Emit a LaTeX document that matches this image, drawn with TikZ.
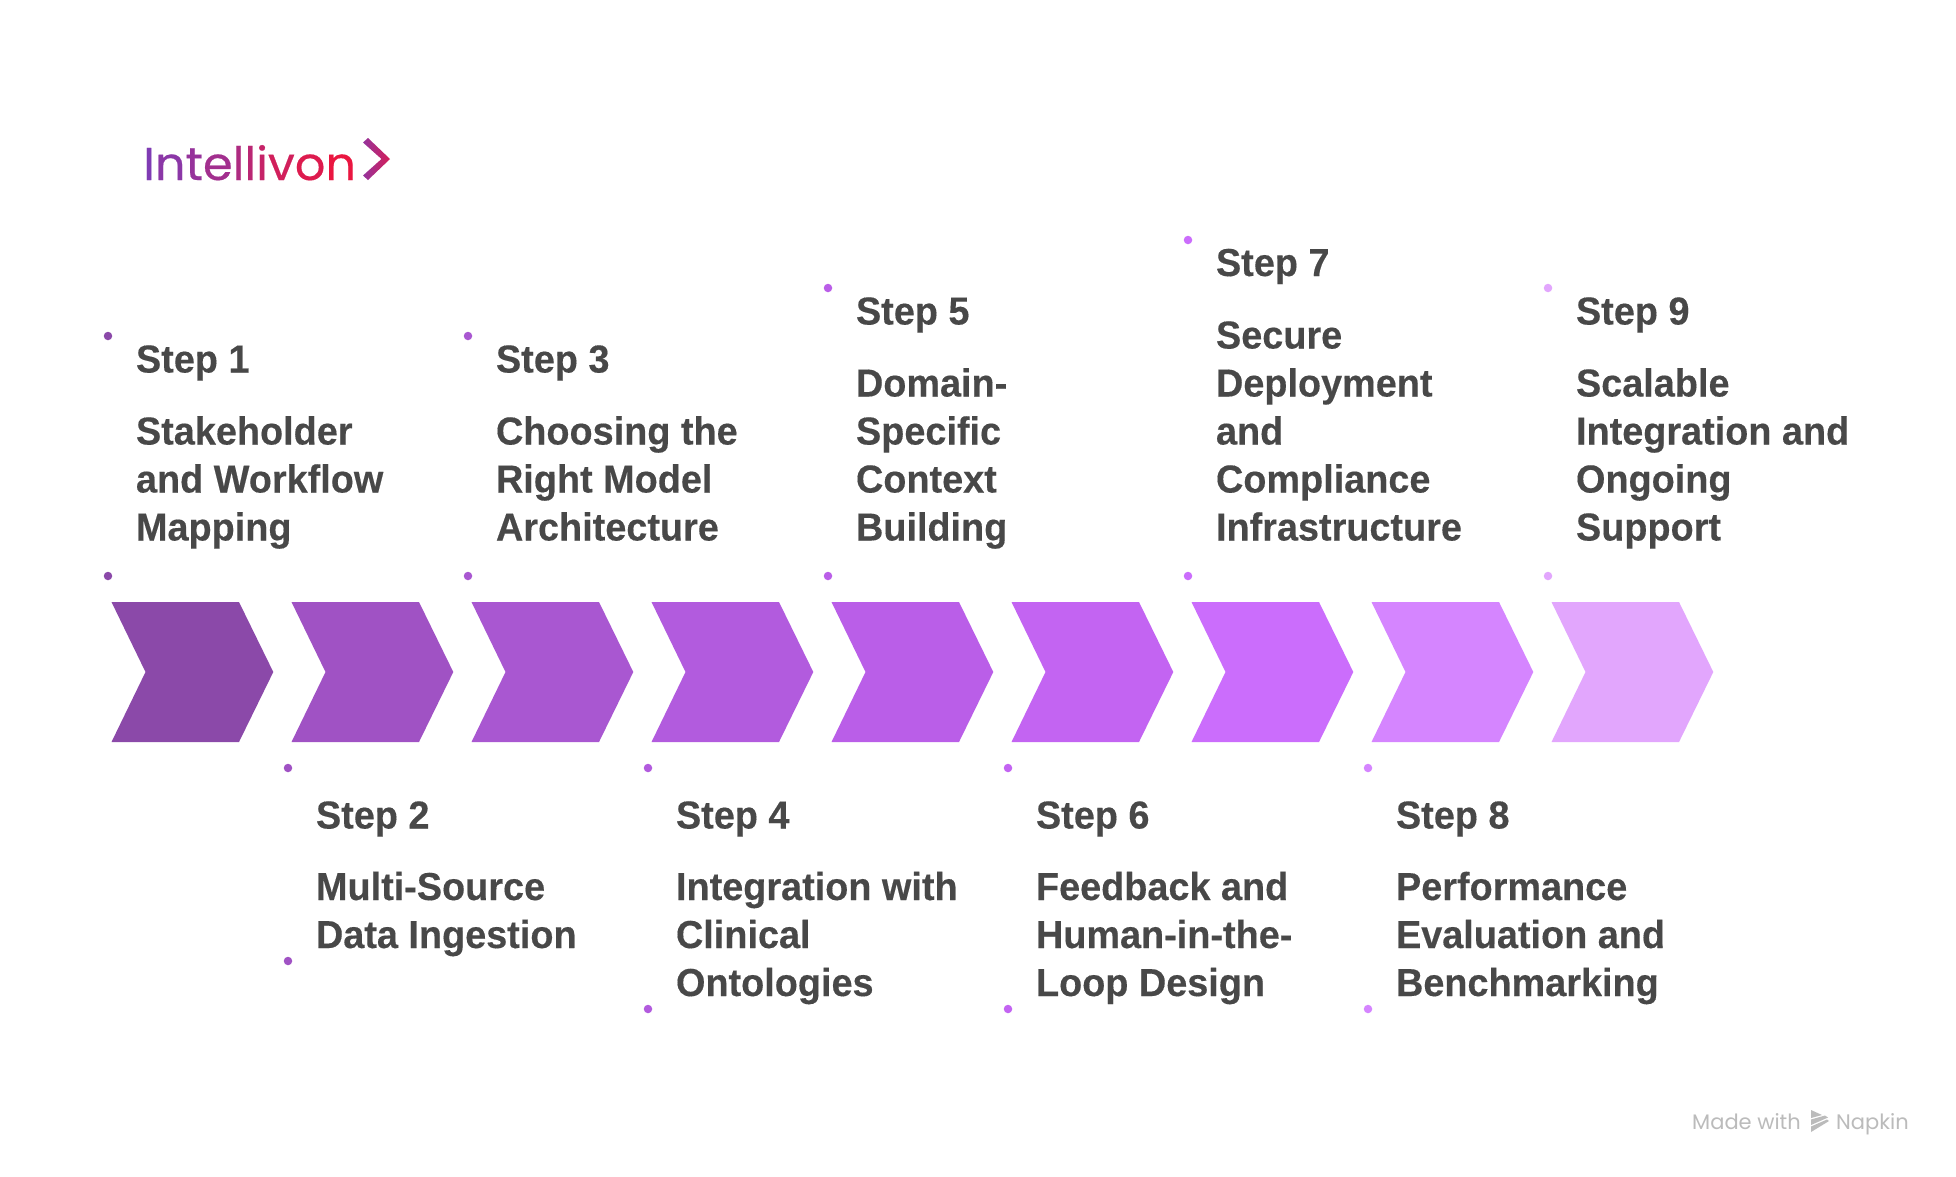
\documentclass[tikz,border=0pt]{standalone}
\usepackage{fontspec}
\setmainfont{Liberation Sans}
\newfontfamily\stepfont[FakeStretch=0.97,FakeBold=0.3]{Liberation Sans}
\newfontfamily\logofont[FakeStretch=1.04,FakeBold=0.4]{Poppins}
\newfontfamily\markfont{Poppins}
\definecolor{txt}{HTML}{484848}
\definecolor{cA}{HTML}{8B49A9}
\definecolor{cB}{HTML}{A052C4}
\definecolor{cC}{HTML}{A957D1}
\definecolor{cD}{HTML}{B25BDE}
\definecolor{cE}{HTML}{BA5EE8}
\definecolor{cF}{HTML}{C364F2}
\definecolor{cG}{HTML}{CB6DFC}
\definecolor{cH}{HTML}{D585FF}
\definecolor{cI}{HTML}{E2A6FD}
\definecolor{logoL}{HTML}{7F3BB4}
\definecolor{logoR}{HTML}{EA1640}
\definecolor{wm}{HTML}{BBBBBB}
\tikzset{
  steptext/.style={anchor=base west,inner sep=0pt,outer sep=0pt,text=txt,font=\stepfont\fontsize{39}{48}\selectfont\bfseries},
  bodytext/.style={steptext,align=left},
  markdot/.style={circle,inner sep=0pt,minimum size=8.5pt},
  marktext/.style={anchor=base west,inner sep=0pt,text=wm,font=\markfont\fontsize{21}{21}\selectfont},
}
\newcommand{\lgc}[2]{\textcolor{logoR!#1!logoL}{#2}}
\begin{document}
\begin{tikzpicture}[x=1pt,y=-1pt]
\useasboundingbox (0,0) rectangle (1956,1176);
\fill[white] (0,0) rectangle (1956,1176);
% logo
\node[anchor=base west,inner sep=0pt,font=\logofont\fontsize{46}{46}\selectfont] (logo) at (143,180)
  {\lgc{0}{I}\lgc{11}{n}\lgc{22}{t}\lgc{33}{e}\lgc{44}{l}\lgc{55}{l}\lgc{66}{i}\lgc{77}{v}\lgc{88}{o}\lgc{100}{n}};
\shade[left color=logoL!80!logoR,right color=logoR!80!logoL] (368,138)--(390,159)--(368,180)--(363,175.5)--(381.5,159)--(363,142.5)--cycle;
% chevrons
\foreach \i/\c in {0/cA,1/cB,2/cC,3/cD,4/cE,5/cF,6/cG,7/cH,8/cI}{
  \fill[\c] ({111.5+180*\i},602)--({239+180*\i},602)--({273.3+180*\i},672)--({239+180*\i},742)--({111.5+180*\i},742)--({145.5+180*\i},672)--cycle;
}
% dots
\foreach \n/\x/\y/\c in {
  a/108/336/cA,b/108/576/cA,
  c/288/768/cB,d/288/961/cB,
  e/468/336/cC,f/468/576/cC,
  g/648/768/cD,h/648/1009/cD,
  j/828/288/cE,k/828/576/cE,
  l/1008/768/cF,m/1008/1009/cF,
  o/1188/240/cG,p/1188/576/cG,
  q/1368/768/cH,r/1368/1009/cH,
  s/1548/288/cI,t/1548/576/cI}{
  \node[markdot,fill=\c] (dot\n) at (\x,\y) {};
}
% upper texts
\node[steptext] (s1) at (136,372.5) {Step 1};
\node[bodytext] (b1) at (136,540.5) {Stakeholder\\and Workflow\\Mapping};
\node[steptext] (s3) at (496,372.5) {Step 3};
\node[bodytext] (b3) at (496,540.5) {Choosing the\\Right Model\\Architecture};
\node[steptext] (s5) at (856,324.5) {Step 5};
\node[bodytext] (b5) at (856,540.5) {Domain-\\Specific\\Context\\Building};
\node[steptext] (s7) at (1216,276) {Step 7};
\node[bodytext] (b7) at (1216,540.5) {Secure\\Deployment\\and\\Compliance\\Infrastructure};
\node[steptext] (s9) at (1576,324.5) {Step 9};
\node[bodytext] (b9) at (1576,540.5) {Scalable\\Integration and\\Ongoing\\Support};
% lower texts
\node[steptext] (s2) at (316,828.5) {Step 2};
\node[bodytext] (b2) at (316,948) {Multi-Source\\Data Ingestion};
\node[steptext] (s4) at (676,828.5) {Step 4};
\node[bodytext] (b4) at (676,996) {Integration with\\Clinical\\Ontologies};
\node[steptext] (s6) at (1036,828.5) {Step 6};
\node[bodytext] (b6) at (1036,996) {Feedback and\\Human-in-the-\\Loop Design};
\node[steptext] (s8) at (1396,828.5) {Step 8};
\node[bodytext] (b8) at (1396,996) {Performance\\Evaluation and\\Benchmarking};
% watermark
\node[marktext] (mw) at (1692,1129) {Made with};
\node[marktext] (nk) at (1836,1129) {Napkin};
\fill[wm] (1811,1110)--(1822,1115)--(1811,1118)--cycle;
\fill[wm] (1811,1119.5)--(1825,1115.5)--(1828,1117.5)--(1811,1125)--cycle;
\fill[wm] (1811,1126.5)--(1827,1119.5)--(1829,1121)--(1811,1132)--cycle;
\end{tikzpicture}
\end{document}
